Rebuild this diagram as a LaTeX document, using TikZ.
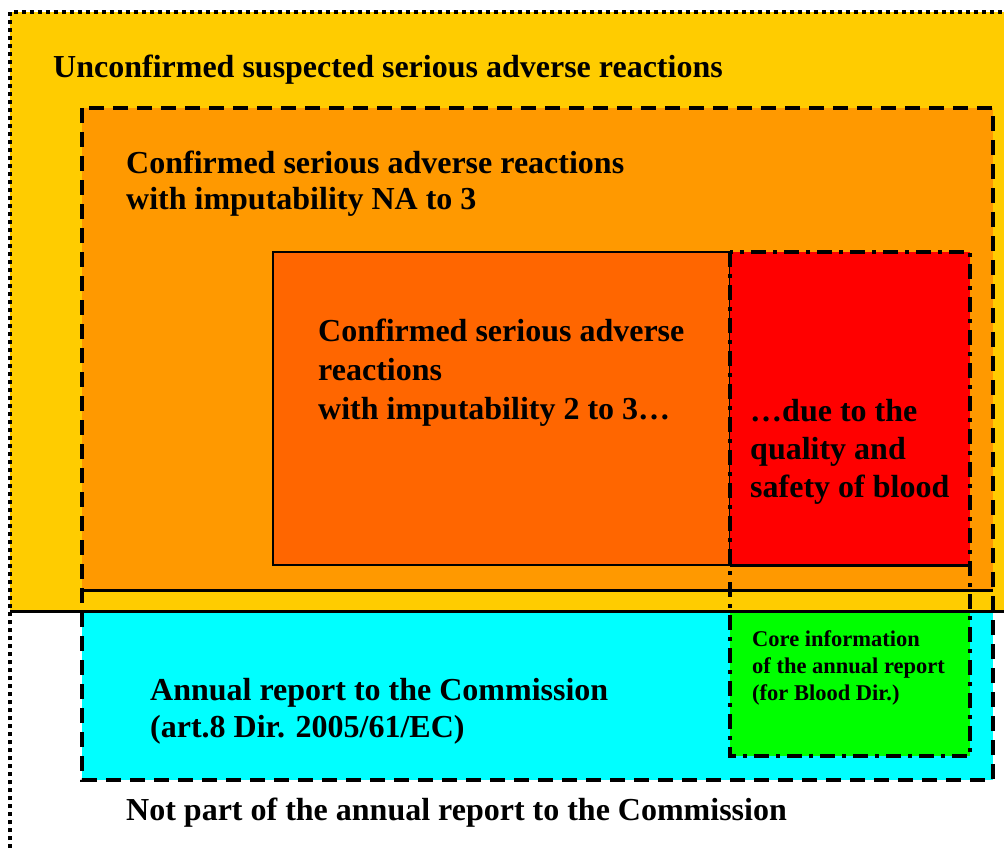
\documentclass[tikz,border=0pt]{standalone}
\usepackage{fontspec}
\setmainfont{Liberation Serif}
\definecolor{cyellow}{HTML}{FFCC00}
\definecolor{corange}{HTML}{FF9900}
\definecolor{cdeep}{HTML}{FF6600}
\definecolor{cred}{HTML}{FF0000}
\definecolor{ccyan}{HTML}{00FFFF}
\definecolor{cgreen}{HTML}{00FF00}
\tikzset{
  big/.style={anchor=base west,inner sep=0pt,align=left,font=\fontsize{32}{37}\selectfont\bfseries},
  small/.style={anchor=base west,inner sep=0pt,align=left,font=\fontsize{22.5}{27}\selectfont\bfseries},
  dotline/.style={line width=4pt,dash pattern=on 4pt off 4pt},
  dashline/.style={line width=3.5pt,dash pattern=on 15pt off 9pt},
  dashdotline/.style={line width=3.5pt,dash pattern=on 15pt off 7pt on 4pt off 7pt},
  solidline/.style={line width=3pt},
}
\begin{document}
\begin{tikzpicture}[x=1pt,y=-1pt]
\useasboundingbox (0,0) rectangle (1004,848);
% fills
\fill[cyellow] (10,12) rectangle (1004,611);
\fill[corange] (82,108) rectangle (993,590);
\fill[ccyan] (82,612) rectangle (993,780);
\draw[fill=cdeep,line width=1.5pt] (273,252) rectangle (730,565);
\fill[cred] (730,252) rectangle (970,565);
\fill[cgreen] (730,612) rectangle (970,756);
% solid separators
\draw[solidline] (730,565) -- (970,565);
\draw[solidline] (82,590) -- (993,590);
\draw[solidline] (10,611) -- (1004,611);
% borders
\draw[dotline] (10,848) -- (10,12) -- (1004,12);
\draw[dashline] (82,108) rectangle (993,780);
\draw[dashdotline] (730,252) rectangle (970,756);
% texts (base anchor = baseline of last line)
\node[big] (t1) at (53,78) {Unconfirmed suspected serious adverse reactions};
\node[big,font=\fontsize{32}{36}\selectfont\bfseries] (t2) at (126,209) {Confirmed serious adverse reactions\\with imputability NA to 3};
\node[big,font=\fontsize{32}{39}\selectfont\bfseries] (t3) at (318,419) {Confirmed serious adverse\\reactions\\with imputability 2 to 3…};
\node[big,font=\fontsize{32}{38}\selectfont\bfseries] (t4) at (750,497) {…due to the\\quality and\\safety of blood};
\node[small] (t5) at (752,700) {Core information\\of the annual report\\(for Blood Dir.)};
\node[big] (t6) at (150,737) {Annual report to the Commission\\(art.8 Dir. 2005/61/EC)};
\node[big] (t7) at (126,820) {Not part of the annual report to the Commission};
\end{tikzpicture}
\end{document}
